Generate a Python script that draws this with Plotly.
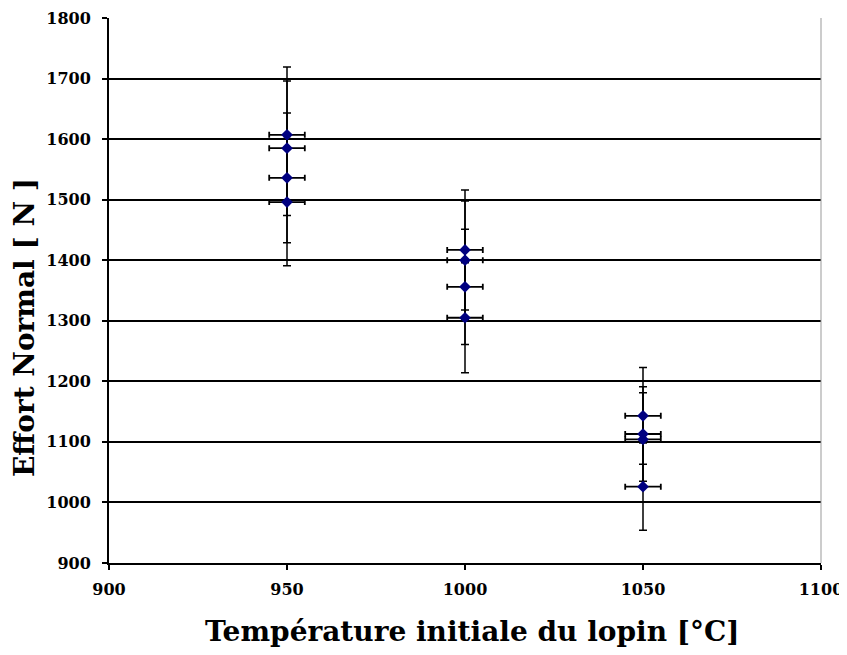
import plotly.graph_objects as go

temperatures = [950, 950, 950, 950, 1000, 1000, 1000, 1000, 1050, 1050, 1050, 1050]
effort = [1607, 1585, 1536, 1496, 1417, 1400, 1356, 1305, 1143, 1113, 1104, 1026]
effort_err = [112, 111, 107, 105, 99, 98, 95, 91, 80, 78, 77, 72]
temp_err = [5] * 12

x_ticks = [900, 950, 1000, 1050, 1100]
y_ticks = [900, 1000, 1100, 1200, 1300, 1400, 1500, 1600, 1700, 1800]

x_title = "Température initiale du lopin [°C]"
y_title = "Effort Normal [ N ]"

FONT = "DejaVu Serif"

fig = go.Figure()
fig.add_trace(go.Scatter(
    x=temperatures, y=effort,
    mode="markers",
    marker=dict(symbol="diamond", size=9, color="#000080"),
    error_y=dict(type="data", array=effort_err, visible=True, color="black", thickness=1.5, width=4),
    error_x=dict(type="data", array=temp_err, visible=True, color="black", thickness=1.8, width=3),
    showlegend=False,
))

fig.update_layout(
    width=847, height=647,
    margin=dict(l=101, r=34, t=10, b=92),
    paper_bgcolor="white", plot_bgcolor="white",
    font=dict(family=FONT, color="black"),
    xaxis=dict(
        range=[900, 1100], tickvals=x_ticks, ticktext=[str(v) for v in x_ticks],
        showgrid=False, zeroline=False, automargin=False,
        showline=True, linecolor="black", linewidth=2,
        ticks="outside", ticklen=5, tickcolor="black", tickwidth=2,
        ticklabelstandoff=6,
        tickfont=dict(family=FONT, size=16, color="black", weight="bold"),
    ),
    yaxis=dict(
        range=[900, 1800], tickvals=y_ticks, ticktext=[str(v) for v in y_ticks],
        showgrid=True, gridcolor="black", gridwidth=1.5, zeroline=False, automargin=False,
        showline=True, linecolor="black", linewidth=2,
        ticks="outside", ticklen=5, tickcolor="black", tickwidth=2,
        ticklabelstandoff=8,
        tickfont=dict(family=FONT, size=16, color="black", weight="bold"),
    ),
    annotations=[
        dict(text="<b>" + x_title + "</b>", xref="paper", yref="paper", x=0.51, y=0,
             xanchor="center", yanchor="middle", yshift=-68, showarrow=False,
             font=dict(family=FONT, size=28, color="black")),
        dict(text="<b>" + y_title + "</b>", xref="paper", yref="paper", x=0, y=0.431,
             xanchor="center", yanchor="middle", xshift=-85, textangle=-90, showarrow=False,
             font=dict(family=FONT, size=28, color="black")),
    ],
    shapes=[dict(type="line", xref="paper", yref="paper", x0=1, x1=1, y0=0, y1=1,
                 line=dict(color="#999999", width=1))],
)

fig.write_html("out.html")
